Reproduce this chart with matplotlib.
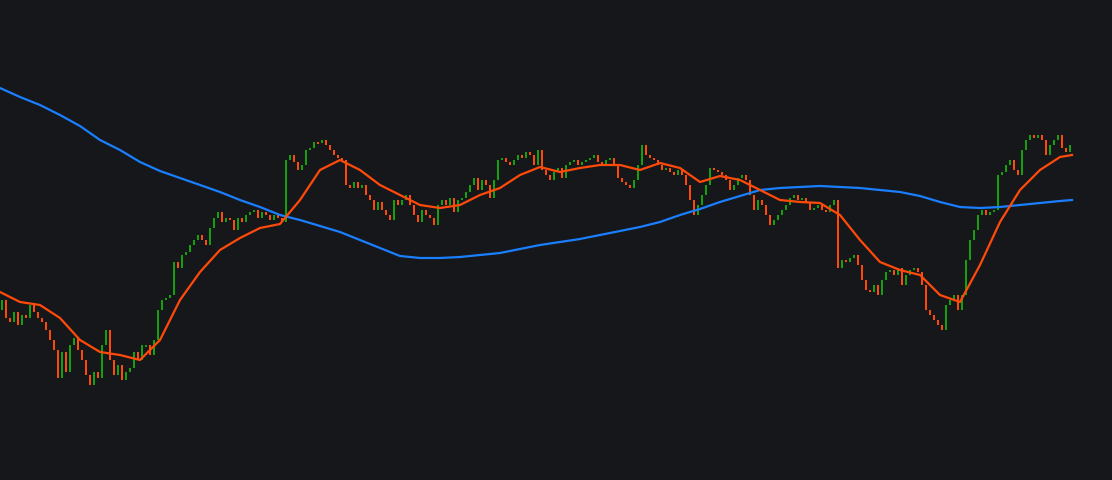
import matplotlib
matplotlib.use("Agg")
import matplotlib.pyplot as plt
import numpy as np

closes = [300,318,322,312,325,315,318,305,312,318,
322,330,340,350,378,352,372,345,338,350,
360,375,385,372,378,345,330,360,375,365,
380,372,368,352,360,345,345,355,340,310,
300,298,295,262,268,255,252,245,240,235,
240,245,228,218,212,222,218,220,230,218,
222,215,212,210,218,212,215,220,215,218,
222,160,155,162,170,165,150,148,142,143,
140,145,150,155,158,160,185,188,182,188,
185,195,200,210,202,210,215,220,200,205,
200,195,205,215,222,210,215,218,225,205,
200,205,198,212,200,198,192,185,178,190,
180,185,198,180,160,158,162,165,160,155,
158,152,155,165,150,170,175,180,172,168,
178,165,162,160,165,162,160,158,155,162,
165,160,158,165,178,182,185,188,180,165,
145,155,158,160,165,170,168,172,175,170,
175,185,200,215,205,195,185,168,170,172,
175,180,190,185,178,175,180,195,210,200,
205,215,225,220,215,210,205,198,195,200,
198,202,210,208,205,210,212,205,200,268,
260,262,258,255,265,280,290,292,285,295,
280,272,270,275,268,285,275,270,268,272,
285,310,315,320,325,330,305,300,295,310,
295,260,240,230,215,210,215,212,210,175,
172,165,160,170,175,150,140,135,138,135,
140,155,145,140,135,148,152,145]
# values stored as screen-level units (higher = lower price)
ma_x = [0,20,40,60,80,100,120,140,160,180,200,220,240,260,280,300,320,340,360,380,400,420,440,460,480,500,520,540,560,580,600,620,640,660,680,700,720,740,760,780,800,820,840,860,880,900,920,940,960,980,1000,1020,1040,1060,1072]
ma_fast = [292,302,305,318,340,352,355,360,340,300,272,250,238,228,224,200,170,160,170,185,195,205,208,205,195,188,175,167,172,168,165,165,170,163,168,182,176,180,190,200,202,203,215,240,262,270,275,295,302,265,222,190,170,157,155]
ma_slow = [88,97,105,115,126,140,150,162,171,178,185,192,200,207,215,220,226,232,240,248,256,258,258,257,255,253,249,245,242,239,235,231,227,222,215,209,202,196,190,188,187,186,187,188,190,192,196,202,207,208,207,205,203,201,200]

bg = "#16171b"
fig = plt.figure(figsize=(11.12, 4.8), dpi=100, facecolor=bg)
ax = fig.add_axes([0, 0, 1, 1], facecolor=bg)
n = len(closes)
idx = np.arange(n)
opens = [closes[0] + 10] + closes[:-1]
for i in idx:
    o, c = opens[i], closes[i]
    col = "#ff4a0a" if c > o else "#13a10e"
    lo, hi = min(o, c), max(o, c)
    if hi - lo < 2:
        hi = lo + 2
    ax.bar(i, hi - lo, bottom=lo, width=0.5, color=col, linewidth=0)
mx = (np.array(ma_x) - 2) / 4.0
ax.plot(mx, ma_slow, color="#1a7fff", lw=1.6)
ax.plot(mx, ma_fast, color="#ff4a0a", lw=1.6)
ax.set_xlim(-0.5, 277.5)
ax.set_ylim(480, 0)
ax.axis("off")
fig.savefig("out.png", dpi=100, facecolor=bg)
